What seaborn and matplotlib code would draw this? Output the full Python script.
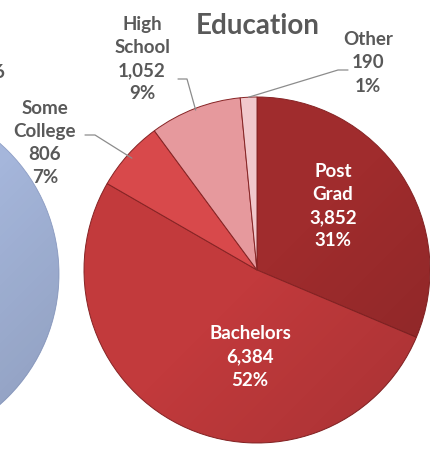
import numpy as np
import matplotlib
matplotlib.use("Agg")
import matplotlib.pyplot as plt
from matplotlib.patches import Circle
import seaborn as sns

# ---- data ----
categories = ["Post\nGrad", "Bachelors", "Some\nCollege", "High\nSchool", "Other"]
counts = [3852, 6384, 806, 1052, 190]
pct_labels = [31, 52, 7, 9, 1]
slice_colors = ["#a02c2d", "#c23a3c", "#d8494b", "#e6999d", "#f1c8cc"]
title = "Education"
left_pie_values = [1]
left_pie_colors = ["#a5b6db"]
left_fragment = "6"

sns.set_theme(style="white")
plt.rcParams["font.family"] = ["Lato", "DejaVu Sans"]

W, H = 431, 451
fig = plt.figure(figsize=(W / 100, H / 100), dpi=100)
ax = fig.add_axes([0, 0, 1, 1])

def Y(y):
    return H - y

GRAY = "#595959"

def shade(center, radius):
    # subtle darkening toward the bottom-right, clipped to the pie disc
    n = 200
    xs = np.linspace(-1, 1, n)
    gx, gy = np.meshgrid(xs, xs)
    d = (gx + gy) / 2.0  # image rows go downward with origin="upper"
    alpha = np.clip(0.14 * d, 0, 1)
    rgba = np.zeros((n, n, 4))
    rgba[..., 3] = alpha
    im = ax.imshow(rgba, extent=(center[0] - radius, center[0] + radius,
                                 center[1] - radius, center[1] + radius),
                   origin="upper", zorder=3, interpolation="bilinear")
    clip = Circle(center, radius, transform=ax.transData)
    im.set_clip_path(clip)

# partially visible neighbour pie on the left
lc_center = (-115, Y(274))
ax.pie(left_pie_values, colors=left_pie_colors, startangle=90, counterclock=False,
       center=lc_center, radius=174,
       wedgeprops=dict(edgecolor="#8f9fc6", linewidth=0.6))
shade(lc_center, 174)

# main pie
cx, cy, R = 257, Y(270), 173
wedges, _ = ax.pie(counts, colors=slice_colors, startangle=90, counterclock=False,
                   center=(cx, cy), radius=R,
                   wedgeprops=dict(edgecolor="#862324", linewidth=0.7))
shade((cx, cy), R)

def label_text(i):
    return f"{categories[i]}\n{counts[i]:,}\n{pct_labels[i]}%"

fs = 13.5
kw = dict(ha="center", va="center", fontsize=fs, fontweight="bold",
          linespacing=1.45, zorder=5)
# inside labels
ax.text(333, Y(206), label_text(0), color="white", **kw)
ax.text(250, Y(357), label_text(1), color="white", **kw)
# outside labels
ax.text(45, Y(143), label_text(2), color=GRAY, **kw)
ax.text(142, Y(59), label_text(3), color=GRAY, **kw)
ax.text(368, Y(63), f"Other\n{counts[4]:,}\n{pct_labels[4]}%", color=GRAY, **kw)

# leader lines from wedge mid-angle on the rim
def rim_point(w, frac=1.0):
    ang = np.deg2rad((w.theta1 + w.theta2) / 2)
    return cx + R * frac * np.cos(ang), cy + R * frac * np.sin(ang)

lc = "#8c8c8c"
px, py = rim_point(wedges[2], 0.97)
ax.plot([85, 95, px], [Y(135), Y(135), py], color=lc, lw=0.9, zorder=4)
px, py = rim_point(wedges[3], 0.99)
ax.plot([178, 187, px], [Y(79), Y(79), py], color=lc, lw=0.9, zorder=4)
px, py = rim_point(wedges[4], 1.0)
ax.plot([348, 338, px], [Y(70), Y(70), py], color=lc, lw=0.9, zorder=4)

ax.text(4, Y(73), left_fragment, ha="right", va="center", color=GRAY,
        fontsize=fs, fontweight="bold", zorder=5)

ax.text(258, Y(26), title, ha="center", va="center", color=GRAY,
        fontsize=20, fontweight="bold", zorder=5)

ax.set_xlim(0, W)
ax.set_ylim(0, H)
ax.set_aspect("equal")
ax.axis("off")
fig.savefig("out.png", dpi=100)
